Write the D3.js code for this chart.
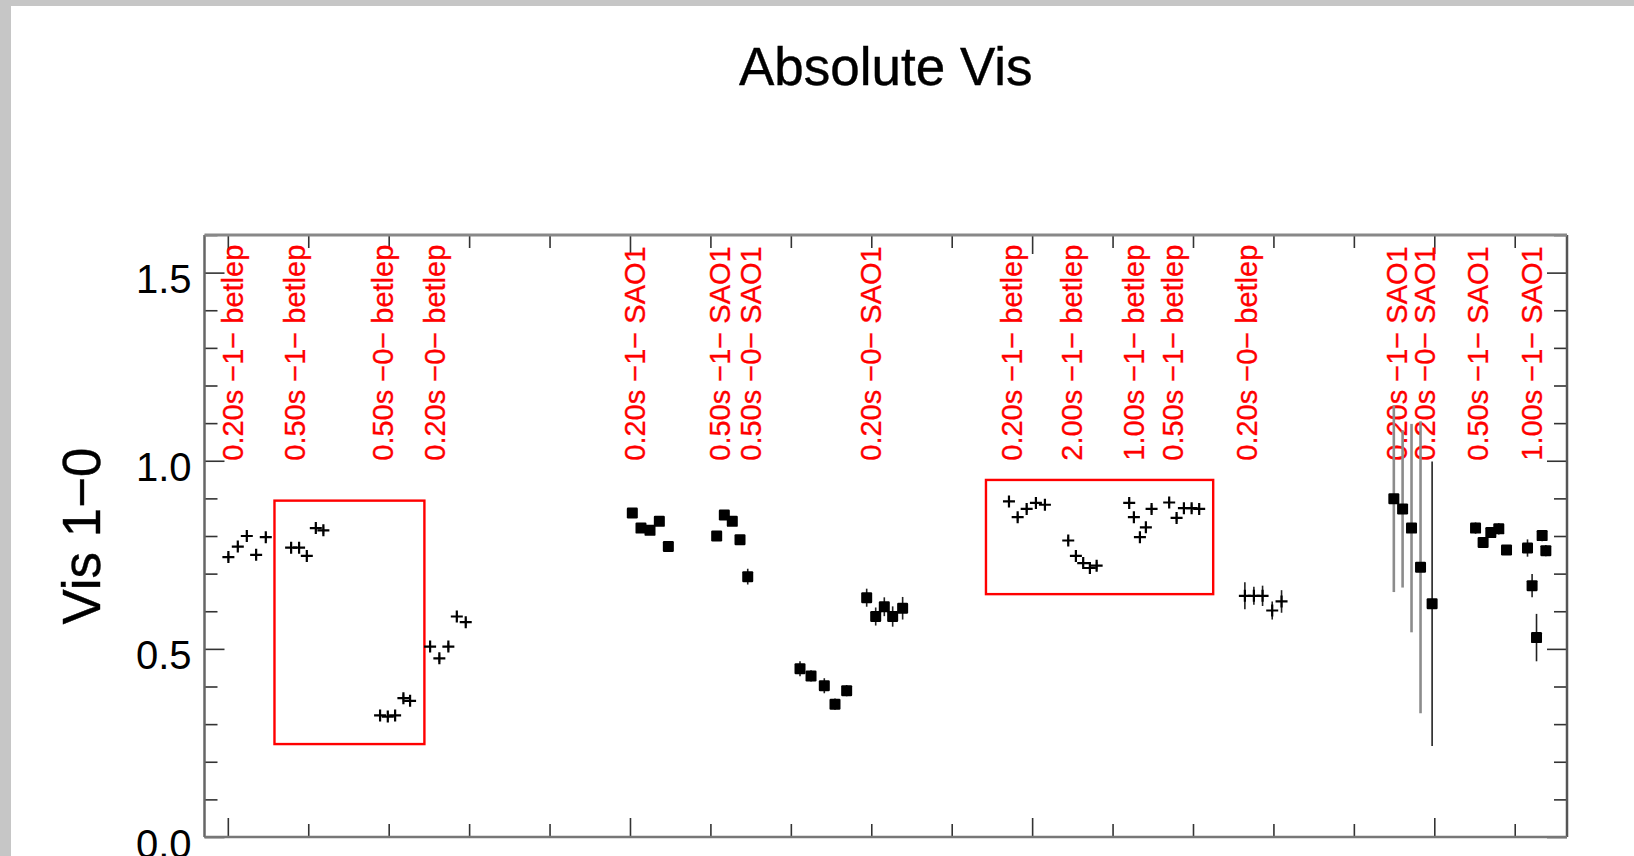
<!DOCTYPE html>
<html><head><meta charset="utf-8">
<script src="https://cdn.jsdelivr.net/npm/d3@7"></script>
<style>html,body{margin:0;padding:0;background:#fff;overflow:hidden}</style>
</head><body><svg id="c" width="1634" height="856"></svg>
<script>
// ---------- data ----------
const xDomain = [-0.29, 16.65];
const yDomain = [0, 1.6];
const yMajorTicks = [0, 0.5, 1.0, 1.5];
const yMinorTicks = [0.1,0.2,0.3,0.4,0.6,0.7,0.8,0.9,1.1,1.2,1.3,1.4,1.6];
const xMajorTicks = [0, 5, 10, 15];
const xMinorTicks = [1,2,3,4,6,7,8,9,11,12,13,14,16];

// betlep observations (plus markers)
const betlepX = [0.007,0.124,0.236,0.352,0.472, 0.787,0.886,0.982,1.094,1.188,
  1.893,1.989,2.080,2.183,2.266, 2.515,2.630,2.742,2.847,2.958,
  9.712,9.820,9.932,10.047,10.159, 10.449,10.544,10.635,10.718,10.802,
  11.207,11.265,11.340,11.414,11.485, 11.704,11.796,11.887,11.983,12.077,
  12.645,12.757,12.865,12.985,13.101];
const betlepY = [0.744,0.772,0.800,0.750,0.797, 0.769,0.769,0.747,0.821,0.815,
  0.323,0.320,0.323,0.369,0.362, 0.506,0.475,0.506,0.586,0.571,
  0.892,0.850,0.872,0.888,0.883, 0.788,0.747,0.728,0.715,0.721,
  0.888,0.850,0.797,0.823,0.872, 0.889,0.848,0.874,0.874,0.872,
  0.641,0.641,0.641,0.602,0.626];
const betlepErr = [0.01,0.01,0.01,0.01,0.01, 0.01,0.01,0.01,0.01,0.01,
  0.01,0.01,0.01,0.01,0.01, 0.01,0.01,0.01,0.01,0.01,
  0.01,0.01,0.01,0.01,0.01, 0.01,0.01,0.01,0.01,0.01,
  0.01,0.01,0.01,0.01,0.01, 0.01,0.01,0.01,0.01,0.01,
  0.036,0.024,0.027,0.024,0.030];

// SAO1 observations (filled squares)
const saoX = [5.029,5.137,5.249,5.365,5.477, 6.078,6.173,6.272,6.368,6.464,
  7.114,7.251,7.416,7.549,7.694, 7.943,8.055,8.162,8.266,8.390,
  14.497,14.606,14.717,14.829,14.973, 15.513,15.607,15.703,15.802,15.898,
  16.159,16.216,16.271,16.341,16.387];
const saoY = [0.861,0.821,0.815,0.839,0.772, 0.800,0.856,0.839,0.790,0.692,
  0.447,0.428,0.402,0.353,0.389, 0.636,0.586,0.612,0.586,0.608,
  0.899,0.872,0.821,0.717,0.620, 0.821,0.783,0.809,0.819,0.763,
  0.768,0.668,0.530,0.801,0.761];
const saoErr = [0.01,0.01,0.01,0.01,0.01, 0.01,0.01,0.01,0.01,0.021,
  0.02,0.015,0.02,0.015,0.015, 0.024,0.024,0.025,0.027,0.030,
  0.248,0.209,0.277,0.388,0.378, 0.015,0.012,0.012,0.015,0.012,
  0.023,0.031,0.063,0.015,0.015];

// scan labels
const labelX = [0.194,0.961,2.059,2.701,5.187,6.244,6.629,8.117,9.870,10.616,
  11.39,11.871,12.8,14.663,15.007,15.67,16.334];
const labelText = ["0.20s \u22121\u2212 betlep","0.50s \u22121\u2212 betlep","0.50s \u22120\u2212 betlep",
  "0.20s \u22120\u2212 betlep","0.20s \u22121\u2212 SAO1","0.50s \u22121\u2212 SAO1","0.50s \u22120\u2212 SAO1",
  "0.20s \u22120\u2212 SAO1","0.20s \u22121\u2212 betlep","2.00s \u22121\u2212 betlep","1.00s \u22121\u2212 betlep",
  "0.50s \u22121\u2212 betlep","0.20s \u22120\u2212 betlep","0.20s \u22121\u2212 SAO1","0.20s \u22120\u2212 SAO1",
  "0.50s \u22121\u2212 SAO1","1.00s \u22121\u2212 SAO1"];
const labelY = 1.0;

// highlight boxes [x0, x1, y0, y1]
const boxX0 = [0.58, 9.426];
const boxX1 = [2.444, 12.251];
const boxY0 = [0.247, 0.6455];
const boxY1 = [0.894, 0.949];

const titleText = "Absolute Vis";
const yLabelText = "Vis 1\u22120";

// ---------- drawing ----------
const W = 1634, H = 856;
const FONT = "'Liberation Sans', Arial, Helvetica, sans-serif";
const svg = d3.select("#c");
svg.append("rect").attr("width", W).attr("height", H).attr("fill", "#c6c6c6");
svg.append("rect").attr("x", 11).attr("y", 6).attr("width", W - 11).attr("height", H - 6).attr("fill", "#fff");

const L = 204.5, R = 1567, T = 235, B = 837;
const x = d3.scaleLinear().domain(xDomain).range([L, R]);
const y = d3.scaleLinear().domain(yDomain).range([B, T]);

// title
svg.append("text").attr("x", (L + R) / 2).attr("y", 85).attr("text-anchor", "middle")
  .attr("font-family", FONT).attr("font-size", 53).attr("fill", "#000")
  .attr("stroke", "#000").attr("stroke-width", 0.4).text(titleText);

// y label
svg.append("text").attr("transform", `translate(100,${(T + B) / 2}) rotate(-90)`)
  .attr("text-anchor", "middle").attr("font-family", FONT).attr("font-size", 54)
  .attr("textLength", 177).attr("lengthAdjust", "spacingAndGlyphs")
  .attr("fill", "#000").attr("stroke", "#000").attr("stroke-width", 0.4).text(yLabelText);

// axes (ticks inward)
function styleAxis(g) {
  g.select(".domain").remove();
  g.selectAll(".tick line").attr("stroke", "#333").attr("stroke-width", 1.6);
}
svg.append("g").attr("transform", `translate(${L},0)`)
  .call(d3.axisLeft(y).tickValues(yMajorTicks).tickSize(-20).tickPadding(13).tickFormat(d3.format(".1f")))
  .call(styleAxis)
  .call(g => g.selectAll("text").attr("font-family", FONT).attr("font-size", 40).attr("fill", "#000").attr("dy", 20));
svg.append("g").attr("transform", `translate(${L},0)`)
  .call(d3.axisLeft(y).tickValues(yMinorTicks).tickSize(-13).tickFormat("")).call(styleAxis);
svg.append("g").attr("transform", `translate(${R},0)`)
  .call(d3.axisRight(y).tickValues(yMajorTicks).tickSize(-20).tickFormat("")).call(styleAxis);
svg.append("g").attr("transform", `translate(${R},0)`)
  .call(d3.axisRight(y).tickValues(yMinorTicks).tickSize(-13).tickFormat("")).call(styleAxis);
svg.append("g").attr("transform", `translate(0,${B})`)
  .call(d3.axisBottom(x).tickValues(xMajorTicks).tickSize(-19).tickFormat("")).call(styleAxis);
svg.append("g").attr("transform", `translate(0,${B})`)
  .call(d3.axisBottom(x).tickValues(xMinorTicks).tickSize(-13).tickFormat("")).call(styleAxis);
svg.append("g").attr("transform", `translate(0,${T})`)
  .call(d3.axisTop(x).tickValues(xMajorTicks).tickSize(-19).tickFormat("")).call(styleAxis);
svg.append("g").attr("transform", `translate(0,${T})`)
  .call(d3.axisTop(x).tickValues(xMinorTicks).tickSize(-13).tickFormat("")).call(styleAxis);

// frame
svg.append("line").attr("x1", L).attr("x2", L).attr("y1", T).attr("y2", B).attr("stroke", "#666").attr("stroke-width", 2.5);
svg.append("line").attr("x1", R).attr("x2", R).attr("y1", T).attr("y2", B).attr("stroke", "#555").attr("stroke-width", 2.5);
svg.append("line").attr("x1", L).attr("x2", R).attr("y1", B).attr("y2", B).attr("stroke", "#777").attr("stroke-width", 2.5);
svg.append("line").attr("x1", L).attr("x2", R).attr("y1", T).attr("y2", T).attr("stroke", "#888").attr("stroke-width", 3);

// red labels
labelX.forEach((lx, i) => {
  svg.append("text")
    .attr("transform", `translate(${x(lx)},${y(labelY)}) rotate(-90)`)
    .attr("font-family", FONT).attr("font-size", 29).attr("fill", "#ff0000")
    .attr("stroke", "#ff0000").attr("stroke-width", 0.3)
    .text(labelText[i]);
});

// boxes
boxX0.forEach((bx, i) => {
  svg.append("rect").attr("x", x(bx)).attr("y", y(boxY1[i]))
    .attr("width", x(boxX1[i]) - x(bx)).attr("height", y(boxY0[i]) - y(boxY1[i]))
    .attr("fill", "none").attr("stroke", "#ff0000").attr("stroke-width", 2.4);
});

// error bars
const bet = betlepX.map((v, i) => ({x: v, y: betlepY[i], e: betlepErr[i]}));
const sao = saoX.map((v, i) => ({x: v, y: saoY[i], e: saoErr[i]}));
const faint = d => d.e > 0.2 && d.x < 14.9;
svg.append("g").selectAll("line").data(bet.concat(sao)).join("line")
  .attr("x1", d => x(d.x)).attr("x2", d => x(d.x))
  .attr("y1", d => y(d.y - d.e)).attr("y2", d => y(d.y + d.e))
  .attr("stroke", d => faint(d) ? "#8c8c8c" : "#222")
  .attr("stroke-width", d => faint(d) ? 2.6 : 1.6);

// markers
const ps = 6;
svg.append("g").selectAll("path").data(bet).join("path")
  .attr("d", d => `M${x(d.x) - ps},${y(d.y)}H${x(d.x) + ps}M${x(d.x)},${y(d.y) - ps}V${y(d.y) + ps}`)
  .attr("stroke", "#000").attr("stroke-width", 2.2).attr("fill", "none");
const sq = 11;
svg.append("g").selectAll("rect").data(sao).join("rect")
  .attr("x", d => x(d.x) - sq / 2).attr("y", d => y(d.y) - sq / 2)
  .attr("width", sq).attr("height", sq).attr("rx", 1.2).attr("fill", "#000");
</script>
</body></html>
